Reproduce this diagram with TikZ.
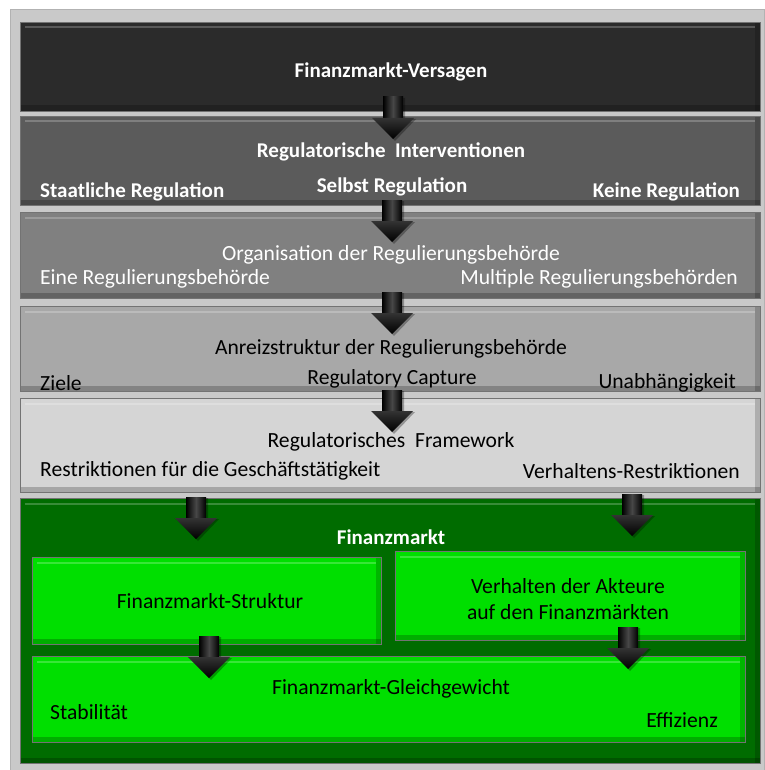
\documentclass[tikz,border=0pt]{standalone}
\usepackage{fontspec}
\setmainfont{Carlito}
\usetikzlibrary{calc}
\definecolor{frameg}{HTML}{C9C9C9}
\definecolor{cA}{HTML}{2B2B2B}
\definecolor{cB}{HTML}{5B5B5B}
\definecolor{cC}{HTML}{808080}
\definecolor{cD}{HTML}{A8A8A8}
\definecolor{cE}{HTML}{D5D5D5}
\definecolor{gDark}{HTML}{006C00}
\definecolor{gLight}{HTML}{00DF00}
\tikzset{
  box/.style={rectangle, anchor=north west, inner sep=0pt, draw=black!55, line width=1pt,
    path picture={
      \fill[white,opacity=.22] ([xshift=4pt,yshift=-4pt]path picture bounding box.north west) rectangle ([xshift=-6pt,yshift=-6pt]path picture bounding box.north east);
      \fill[black,opacity=.22] (path picture bounding box.south west) rectangle ([yshift=6pt]path picture bounding box.south east);
      \fill[black,opacity=.18] ([xshift=-6pt]path picture bounding box.north east) rectangle (path picture bounding box.south east);
    }},
  txt/.style={inner sep=0pt, yshift=-2pt, font=\fontsize{21.6}{26}\selectfont},
  wtxt/.style={txt, text=white},
  btxt/.style={txt, text=white, font=\fontsize{21}{25}\selectfont\bfseries},
}
\newcommand\darrow[3]{%
  \coordinate (#1) at (#2,#3);
  \fill[black,opacity=.3] ($(#1)+(-8,1)$) -- ++(20,0) -- ++(0,21) -- ++(11,0) -- ++(-21,22) -- ++(-21,-22) -- ++(11,0) -- cycle;
  \shade[left color=black, right color=black, middle color=black!72!white] ($(#1)+(-10,0)$) rectangle ++(20,22);
  \shade[top color=black!80!white, bottom color=black] ($(#1)+(-21,21)$) -- ++(42,0) -- ++(-21,21) -- cycle;
}
\begin{document}
\begin{tikzpicture}[x=1pt,y=-1pt]
\useasboundingbox (0,0) rectangle (764,770);
\fill[white] (0,0) rectangle (764,770);
\node[rectangle, anchor=north west, inner sep=0pt, fill=frameg, draw=black!30, line width=1pt, minimum width=754pt, minimum height=761pt] (frame) at (10,9) {};

% gray boxes
\node[box, fill=cA, minimum width=740pt, minimum height=89pt] (b1) at (20,22) {};
\node[box, fill=cB, minimum width=740pt, minimum height=89pt] (b2) at (20,116) {};
\node[box, fill=cC, minimum width=740pt, minimum height=86pt] (b3) at (20,212) {};
\node[box, fill=cD, minimum width=740pt, minimum height=85pt] (b4) at (20,306) {};
\node[box, fill=cE, minimum width=740pt, minimum height=94pt] (b5) at (20,398) {};
% green
\node[box, fill=gDark, minimum width=740pt, minimum height=265pt] (g0) at (20,498) {};
\node[box, fill=gLight, minimum width=349pt, minimum height=87pt] (g1) at (32,557) {};
\node[box, fill=gLight, minimum width=350pt, minimum height=89pt] (g2) at (395,551) {};
\node[box, fill=gLight, minimum width=713pt, minimum height=86pt] (g3) at (32,656) {};

% texts
\node[btxt] (t1) at (391,70) {Finanzmarkt-Versagen};
\node[btxt] (t2) at (391,150) {Regulatorische\ \ Interventionen};
\node[btxt, anchor=west] (t2a) at (40,190) {Staatliche Regulation};
\node[btxt] (t2b) at (392,185) {Selbst Regulation};
\node[btxt, anchor=east] (t2c) at (740,190) {Keine Regulation};
\node[wtxt] (t3) at (391,253) {Organisation der Regulierungsbehörde};
\node[wtxt, anchor=west] (t3a) at (40,277) {Eine Regulierungsbehörde};
\node[wtxt, anchor=east] (t3b) at (738,277) {Multiple Regulierungsbehörden};
\node[txt] (t4) at (391,347) {Anreizstruktur der Regulierungsbehörde};
\node[txt, anchor=west] (t4a) at (40,381) {Ziele};
\node[txt] (t4b) at (392,377) {Regulatory Capture};
\node[txt, anchor=east] (t4c) at (736,381) {Unabhängigkeit};
\node[txt] (t5) at (391,440) {Regulatorisches\ \ Framework};
\node[txt, anchor=west] (t5a) at (40,469) {Restriktionen für die Geschäftstätigkeit};
\node[txt, anchor=east] (t5b) at (740,469) {Verhaltens-Restriktionen};
\node[btxt] (t6) at (391,535) {Finanzmarkt};
\node[txt] (t7) at (210,599) {Finanzmarkt-Struktur};
\node[txt, align=center, font=\fontsize{21.6}{26}\selectfont] (t8) at (568,597) {Verhalten der Akteure\\auf den Finanzmärkten};
\node[txt] (t9) at (391,687) {Finanzmarkt-Gleichgewicht};
\node[txt, anchor=west] (t9a) at (50,710) {Stabilität};
\node[txt, anchor=east] (t9b) at (718,718) {Effizienz};

% arrows
\darrow{a1}{393}{97}
\darrow{a2}{392}{200}
\darrow{a3}{392}{292}
\darrow{a4}{392}{390}
\darrow{a5}{196}{497}
\darrow{a6}{632}{494}
\darrow{a7}{209}{636}
\darrow{a8}{628}{627}
\end{tikzpicture}
\end{document}
